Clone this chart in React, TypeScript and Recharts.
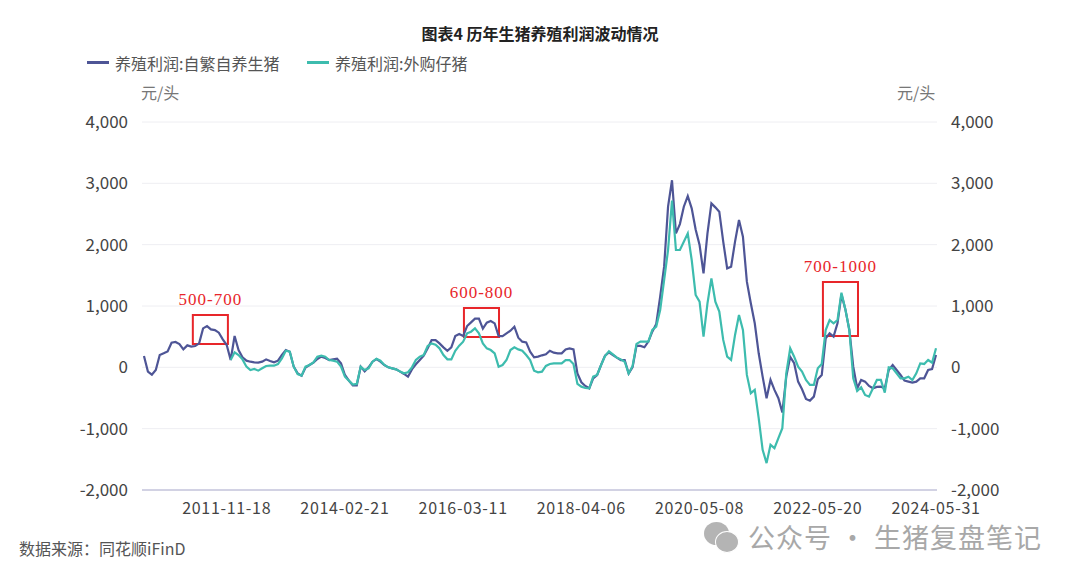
import {
  LineChart,
  Line,
  XAxis,
  YAxis,
  CartesianGrid,
  ReferenceArea,
} from "recharts"

const FONT = '"Noto Sans CJK SC", "Noto Sans", sans-serif'
const BLUE = "#4e5596"
const TEAL = "#3dbcae"
const RED = "#e8262a"

const tickDates = ["2011-11-18", "2014-02-21", "2016-03-11", "2018-04-06", "2020-05-08", "2022-05-20", "2024-05-31"]
const tickIndexes = [21, 51, 81, 111, 141, 171, 201]
const yTicks = [-2000, -1000, 0, 1000, 2000, 3000, 4000]

// 自繁自养生猪
const selfBred = [
  185, -70, -120, -43, 200, 228, 260, 402, 413, 380,
  293, 358, 337, 348, 391, 635, 673, 619, 608, 565,
  456, 364, 120, 510, 282, 163, 109, 92, 81, 76,
  92, 130, 103, 81, 109, 201, 282, 255, 11, -98,
  -136, -5, 38, 76, 136, 174, 152, 119, 130, 141,
  65, -125, -217, -293, -293, 11, -65, 0, 92, 136,
  92, 38, 0, -16, -33, -70, -108, -152, -33, 49,
  119, 190, 310, 445, 445, 391, 326, 271, 326, 510,
  543, 510, 673, 733, 793, 793, 630, 728, 755, 717,
  510, 510, 554, 597, 662, 483, 418, 407, 255, 163,
  174, 196, 212, 271, 239, 228, 228, 293, 310, 293,
  -98, -244, -304, -342, -179, -125, 38, 190, 244, 201,
  158, 119, 119, -100, 3, 354, 349, 327, 420, 582,
  707, 1153, 1641, 2619, 3050, 2184, 2336, 2619, 2792, 2592,
  2249, 1994, 1533, 2184, 2673, 2608, 2537, 2049, 1614, 1641,
  2049, 2401, 2130, 1397, 1044, 718, 229, -151, -504, -205,
  -368, -504, -737, -152, 170, 66, -233, -358, -515, -543,
  -477, -195, -125, 473, 554, 500, 717, 1190, 945, 609,
  11, -342, -206, -233, -304, -342, -320, -315, -342, -43,
  38, -43, -125, -217, -233, -249, -233, -179, -179, -43,
  -27, 200,
]

// 外购仔猪, starts later than the other series
const purchased = [
  null, null, null, null, null, null, null, null, null, null,
  null, null, null, null, null, null, null, null, null, null,
  null, null, 120, 244, 201, 130, 11, -43, -27, -54,
  -16, 22, 27, 27, 54, 147, 271, 255, 11, -110,
  -136, 11, 38, 81, 174, 190, 174, 119, 109, 92,
  11, -152, -217, -282, -271, 11, -43, -16, 92, 141,
  109, 38, 0, -16, -33, -70, -98, -81, 0, 119,
  174, 201, 348, 391, 369, 310, 201, 130, 130, 271,
  353, 418, 554, 581, 635, 554, 391, 310, 282, 228,
  11, 38, 119, 282, 326, 293, 271, 201, 119, -54,
  -81, -70, 22, 54, 65, 65, 65, 119, 119, 54,
  -271, -315, -337, -342, -152, -125, 38, 185, 261, 212,
  158, 130, 92, -100, 23, 382, 420, 420, 420, 610,
  664, 935, 1424, 1913, 2720, 1913, 1913, 2049, 2184, 1750,
  1180, 1071, 501, 1044, 1451, 1071, 908, 447, 175, 121,
  528, 854, 610, -124, -422, -368, -829, -1345, -1562, -1264,
  -1318, -1155, -992, -97, 310, 174, 11, -70, -206, -287,
  -287, -16, 55, 608, 771, 717, 771, 1217, 945, 609,
  -179, -385, -325, -450, -478, -342, -206, -206, -412, 0,
  -16, -97, -179, -179, -152, -206, -97, 65, 55, 120,
  76, 310,
]

const boxLabels = ["500-700", "600-800", "700-1000"]
const boxFrom = [12.4, 81.2, 172.3]
const boxTo = [21.3, 90.1, 181.2]
const boxLow = [380, 494, 510]
const boxHigh = [853, 967, 1390]

const chartData = selfBred.map((v, i) => ({ i, selfBred: v, purchased: purchased[i] }))

function Text({ style, children }: { style: React.CSSProperties; children: React.ReactNode }) {
  return <div style={{ position: "absolute", whiteSpace: "nowrap", lineHeight: 1, ...style }}>{children}</div>
}

function LegendItem({ left, color, label }: { left: number; color: string; label: string }) {
  return (
    <>
      <div style={{ position: "absolute", left, top: 61, width: 22, height: 2.5, background: color }} />
      <Text style={{ left: left + 28, top: 55, fontSize: 16, color: "#555" }}>{label}</Text>
    </>
  )
}

export default function App() {
  return (
    <div
      style={{
        position: "absolute",
        left: 0,
        top: 0,
        width: 1080,
        height: 580,
        background: "#fff",
        fontFamily: FONT,
        overflow: "hidden",
      }}
    >
      <Text style={{ left: 0, width: 1080, textAlign: "center", top: 25, fontSize: 16, fontWeight: 700, color: "#222" }}>
        图表4 历年生猪养殖利润波动情况
      </Text>
      <LegendItem left={87} color={BLUE} label="养殖利润:自繁自养生猪" />
      <LegendItem left={307} color={TEAL} label="养殖利润:外购仔猪" />
      <Text style={{ left: 141, top: 84, fontSize: 16, color: "#777" }}>元/头</Text>
      <Text style={{ left: 897, top: 84, fontSize: 16, color: "#777" }}>元/头</Text>

      <div style={{ position: "absolute", left: 0, top: 0 }}>
        <LineChart
          width={1080}
          height={580}
          data={chartData}
          margin={{ top: 122, right: 0, bottom: 0, left: 0 }}
        >
          <CartesianGrid vertical={false} stroke="#eeeef2" yAxisId="left" />
          <XAxis
            dataKey="i"
            type="number"
            domain={[-0.5, 201.25]}
            ticks={tickIndexes}
            tickFormatter={(v: number) => tickDates[tickIndexes.indexOf(v)]}
            height={90}
            tickLine={false}
            tickMargin={7}
            axisLine={{ stroke: "#c6c6dc", strokeWidth: 1.5 }}
            tick={{ fontSize: 16, fill: "#444", fontFamily: FONT, letterSpacing: 0.7 }}
            interval={0}
          />
          <YAxis
            yAxisId="left"
            width={142}
            domain={[-2000, 4000]}
            ticks={yTicks}
            interval={0}
            tickFormatter={(v: number) => v.toLocaleString("en-US")}
            axisLine={false}
            tickLine={false}
            tickMargin={8}
            tick={{ fontSize: 17, fill: "#444", fontFamily: FONT }}
          />
          <YAxis
            yAxisId="right"
            orientation="right"
            width={143}
            domain={[-2000, 4000]}
            ticks={yTicks}
            interval={0}
            tickFormatter={(v: number) => v.toLocaleString("en-US")}
            axisLine={false}
            tickLine={false}
            tickMargin={8}
            tick={{ fontSize: 17, fill: "#444", fontFamily: FONT }}
          />
          <Line
            yAxisId="left"
            dataKey="selfBred"
            stroke={BLUE}
            strokeWidth={2.2}
            dot={false}
            isAnimationActive={false}
          />
          <Line
            yAxisId="right"
            dataKey="purchased"
            stroke={TEAL}
            strokeWidth={2.2}
            dot={false}
            isAnimationActive={false}
          />
          {boxLabels.map((label, n) => (
            <ReferenceArea
              key={label}
              yAxisId="left"
              x1={boxFrom[n]}
              x2={boxTo[n]}
              y1={boxLow[n]}
              y2={boxHigh[n]}
              fill="none"
              stroke={RED}
              strokeWidth={2}
              label={{
                value: label,
                position: "top",
                offset: 10,
                fill: RED,
                fontSize: 17,
                letterSpacing: 1,
                fontFamily: '"Liberation Serif", serif',
              }}
            />
          ))}
        </LineChart>
      </div>

      <Text style={{ left: 19, top: 540, fontSize: 16, color: "#555" }}>数据来源：同花顺iFinD</Text>

      <div style={{ position: "absolute", left: 704, top: 522, width: 25, height: 23, borderRadius: "50%", background: "#b4b4b4" }} />
      <div style={{ position: "absolute", left: 715, top: 531, width: 22, height: 20, borderRadius: "50%", background: "#b4b4b4", border: "1.5px solid #fff" }} />
      <Text style={{ left: 748, top: 523, fontSize: 27, color: "#a8a8a8", letterSpacing: 1 }}>公众号 · 生猪复盘笔记</Text>
    </div>
  )
}
